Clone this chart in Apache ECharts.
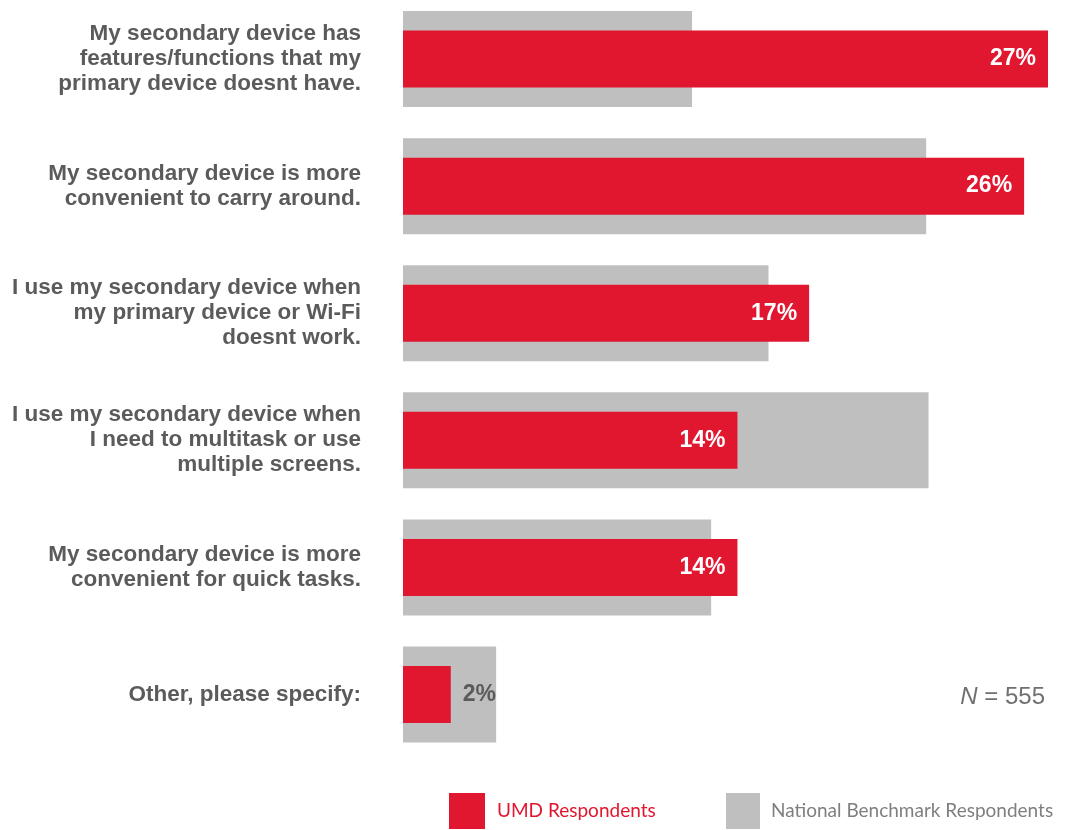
<!DOCTYPE html>
<html>
<head>
<meta charset="utf-8">
<script src="https://cdn.jsdelivr.net/npm/echarts@6/dist/echarts.min.js"></script>
<style>
  html, body { margin: 0; padding: 0; background: #ffffff; }
  #chart { width: 1086px; height: 830px; }
</style>
</head>
<body>
<div id="chart"></div>
<script>
// Reasons for using a secondary device (share of respondents, %)
const categories = [
  'My secondary device has\nfeatures/functions that my\nprimary device doesnt have.',
  'My secondary device is more\nconvenient to carry around.',
  'I use my secondary device when\nmy primary device or Wi-Fi\ndoesnt work.',
  'I use my secondary device when\nI need to multitask or use\nmultiple screens.',
  'My secondary device is more\nconvenient for quick tasks.',
  'Other, please specify:'
];
const umdValues = [27, 26, 17, 14, 14, 2];
const benchmarkValues = [12.1, 21.9, 15.3, 22.0, 12.9, 3.9];
const seriesNames = ['UMD Respondents', 'National Benchmark Respondents'];
const sampleSize = 555;

const RED = '#E1162F';
const GRAY = '#BFBFBF';
const TEXT = '#5B5B5B';

const chart = echarts.init(document.getElementById('chart'), null, { renderer: 'canvas' });

// Red bars: value label inside the bar, or beside it when the bar is too short
const umdData = umdValues.map(v => v < 5 ? {
  value: v,
  label: { position: 'right', distance: 12, color: TEXT }
} : v);

const catAxis = (show) => ({
  type: 'category',
  data: categories,
  inverse: true,
  show: show,
  axisLine: { show: false },
  axisTick: { show: false },
  axisLabel: {
    show: show,
    margin: 42,
    color: TEXT,
    fontFamily: 'Liberation Sans, Arial, sans-serif',
    fontWeight: 'bold',
    fontSize: 22.5,
    lineHeight: 25,
    align: 'right'
  }
});

chart.setOption({
  animation: false,
  grid: {
    left: 403, top: -4.5, width: 645, height: 762.5,
    containLabel: false,
    outerBoundsMode: 'none'
  },
  xAxis: { type: 'value', min: 0, max: 27, show: false },
  yAxis: [catAxis(true), catAxis(false)],
  legend: [
    {
      left: 449, top: 793,
      padding: 0,
      itemWidth: 36, itemHeight: 36,
      icon: 'rect',
      selectedMode: false,
      data: [{ name: seriesNames[0], textStyle: { color: RED } }],
      textStyle: { fontFamily: 'Lato, sans-serif', fontSize: 19, padding: [0, 0, 0, 7] }
    },
    {
      left: 726, top: 793,
      padding: 0,
      itemWidth: 34, itemHeight: 36,
      icon: 'rect',
      selectedMode: false,
      data: [{ name: seriesNames[1], textStyle: { color: '#7F7F7F' } }],
      textStyle: { fontFamily: 'Lato, sans-serif', fontSize: 19, padding: [0, 0, 0, 6] }
    }
  ],
  series: [
    {
      name: seriesNames[1],
      type: 'bar',
      yAxisIndex: 0,
      barWidth: 96,
      itemStyle: { color: GRAY },
      data: benchmarkValues
    },
    {
      name: seriesNames[0],
      type: 'bar',
      yAxisIndex: 1,
      barWidth: 57,
      itemStyle: { color: RED },
      label: {
        show: true,
        position: 'insideRight',
        distance: 12,
        formatter: '{c}%',
        color: '#FFFFFF',
        fontFamily: 'Liberation Sans, Arial, sans-serif',
        fontWeight: 'bold',
        fontSize: 23
      },
      data: umdData
    }
  ],
  graphic: [
    {
      type: 'text',
      right: 41,
      top: 685,
      style: {
        text: '{n|N} = ' + sampleSize,
        fill: '#707070',
        font: '24px "Liberation Sans", Arial, sans-serif',
        rich: {
          n: { fontStyle: 'italic', fontSize: 24, fontFamily: 'Liberation Sans, Arial, sans-serif', fill: '#707070' }
        }
      }
    }
  ]
});
</script>
</body>
</html>
